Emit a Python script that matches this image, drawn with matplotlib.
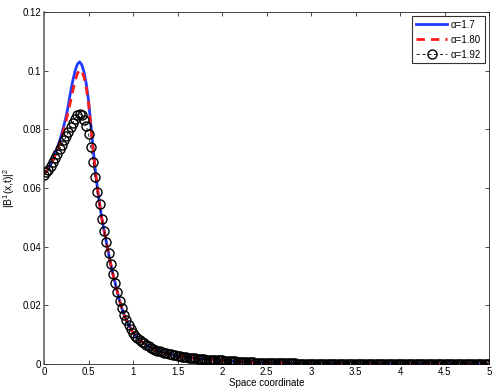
import numpy as np
import matplotlib
matplotlib.use("Agg")
import matplotlib.pyplot as plt

plt.rcParams['font.family'] = ['Liberation Sans', 'DejaVu Sans']
plt.rcParams['mathtext.fontset'] = 'custom'
plt.rcParams['mathtext.rm'] = 'Liberation Sans'
plt.rcParams['mathtext.it'] = 'Liberation Sans'

# x grid of the computed solution (step 0.025 on [0, 5])
x = np.linspace(0.0, 5.0, 201)

# head of each curve, x = 0 ... 0.675
alpha17_head = [0.0648, 0.0657, 0.0668, 0.0682, 0.0698, 0.0716, 0.0737, 0.0760,
                0.0786, 0.0815, 0.0846, 0.0885, 0.0930, 0.0968, 0.1000, 0.1022,
                0.1030, 0.1020, 0.0995, 0.0955, 0.0900, 0.0820, 0.0740, 0.0665,
                0.0600, 0.0545, 0.0495, 0.0455]
alpha180_head = [0.0647, 0.0656, 0.0666, 0.0679, 0.0694, 0.0711, 0.0730, 0.0752,
                 0.0776, 0.0803, 0.0832, 0.0864, 0.0898, 0.0934, 0.0966, 0.0990,
                 0.1003, 0.0998, 0.0978, 0.0942, 0.0890, 0.0815, 0.0737, 0.0662,
                 0.0598, 0.0545, 0.0495, 0.0455]
alpha192_head = [0.0645, 0.0654, 0.0663, 0.0675, 0.0688, 0.0702, 0.0717, 0.0732,
                 0.0747, 0.0762, 0.0776, 0.0792, 0.0808, 0.0823, 0.0836, 0.0848,
                 0.0853, 0.0848, 0.0832, 0.0810, 0.0785, 0.0740, 0.0690, 0.0637,
                 0.0585, 0.0545, 0.0495, 0.0455]

# common tail (curves coincide), x = 0.7 ... 5.0
tail = [0.0415, 0.0377, 0.0340, 0.0306,
        0.0275, 0.0245, 0.0215, 0.0190, 0.0168, 0.0150, 0.0134, 0.0120,
        0.0107, 0.0097, 0.0089, 0.0082, 0.0076, 0.0070, 0.0065, 0.0060, 0.0056, 0.0052,
        0.0049, 0.0046, 0.0043, 0.0041, 0.0039, 0.0037, 0.0035, 0.0033, 0.0031, 0.0029,
        0.0027, 0.0026, 0.0025, 0.0024, 0.0023, 0.0022, 0.0021, 0.0020, 0.0019, 0.0018,
        0.0017, 0.0017, 0.0016, 0.0015, 0.0015, 0.0014, 0.0014, 0.0013, 0.0013, 0.0012,
        0.0012, 0.0011, 0.0011, 0.0010, 0.0010, 0.0009, 0.0009, 0.0008, 0.0008, 0.0007,
        0.0007, 0.0007, 0.0006, 0.0006, 0.0006, 0.0005, 0.0005, 0.0005, 0.0004, 0.0004,
        0.0004, 0.0004, 0.0003, 0.0003, 0.0003, 0.0003, 0.0003, 0.0003, 0.0002, 0.0002,
        0.0002, 0.0002, 0.0002, 0.0002, 0.0001, 0.0001, 0.0001, 0.0001, 0.0001, 0.0001,
        0.0001, 0.0001, 0.0001, 0.0001, 0.0001, 0.0001, 0.00005, 0.00005, 0.00005, 0.00005,
        0.00005, 0.00005, 0.0, 0.0, 0.0, 0.0, 0.0, 0.0, 0.0, 0.0,
        0.0, 0.0, 0.0, 0.0, 0.0, 0.0, 0.0, 0.0, 0.0, 0.0,
        0.0, 0.0, 0.0, 0.0, 0.0, 0.0, 0.0, 0.0, 0.0, 0.0,
        0.0, 0.0, 0.0, 0.0, 0.0, 0.0, 0.0, 0.0, 0.0, 0.0,
        0.0, 0.0, 0.0, 0.0, 0.0, 0.0, 0.0, 0.0, 0.0, 0.0,
        0.0, 0.0, 0.0, 0.0, 0.0, 0.0, 0.0, 0.0, 0.0, 0.0,
        0.0, 0.0, 0.0, 0.0, 0.0, 0.0, 0.0, 0.0, 0.0, 0.0,
        0.0]

labels = ["\u03b1=1.7", "\u03b1=1.80", "\u03b1=1.92"]
xticks = [0, 0.5, 1, 1.5, 2, 2.5, 3, 3.5, 4, 4.5, 5]
xticklabels = ["0", "0.5", "1", "1.5", "2", "2.5", "3", "3.5", "4", "4.5", "5"]
yticks = [0, 0.02, 0.04, 0.06, 0.08, 0.1, 0.12]
yticklabels = ["0", "0.02", "0.04", "0.06", "0.08", "0.1", "0.12"]

n = len(x)
y17 = np.array((alpha17_head + tail)[:n])
y180 = np.array((alpha180_head + tail)[:n])
y192 = np.array((alpha192_head + tail)[:n])
xx = x[:len(y17)]

fig = plt.figure(figsize=(4.98, 3.92), dpi=100)
ax = fig.add_axes([44/498, 28/392, 445/498, 352/392])

ax.plot(xx, y17, color='#1f3bff', lw=2.0, label=labels[0], zorder=2)
ax.plot(xx, y180, color='#ff1a1a', lw=2.0, ls=(0, (3, 2.2)), label=labels[1], zorder=3)
ax.plot(xx, y192, color='black', lw=0.6, ls=(0, (4, 3)), marker='o', ms=6.5,
        mfc='none', mec='black', mew=1.0, label=labels[2], zorder=4)

ax.set_xlim(0, 5)
ax.set_ylim(0, 0.12)
ax.set_xticks(xticks)
ax.set_xticklabels(xticklabels)
ax.set_yticks(yticks)
ax.set_yticklabels(yticklabels)
ax.tick_params(direction='in', top=True, right=True, labelsize=7, length=3, width=0.5, pad=2)
for s in ax.spines.values():
    s.set_linewidth(0.6)
    s.set_color('#222222')
ax.spines['left'].set_color('#666666')
ax.spines['left'].set_linewidth(1.2)

ax.set_xlabel("Space coordinate", fontsize=7, labelpad=1)
ax.set_ylabel(r"|B$^1$(x,t)|$^2$", fontsize=7.5, labelpad=4)

leg = ax.legend(loc='upper right', fontsize=7, frameon=True, fancybox=False,
                edgecolor='black', handlelength=3.2, borderpad=0.4,
                labelspacing=0.5, handletextpad=0.4, borderaxespad=0.4)
leg.get_frame().set_linewidth(0.8)

fig.savefig("out.png", dpi=100)
